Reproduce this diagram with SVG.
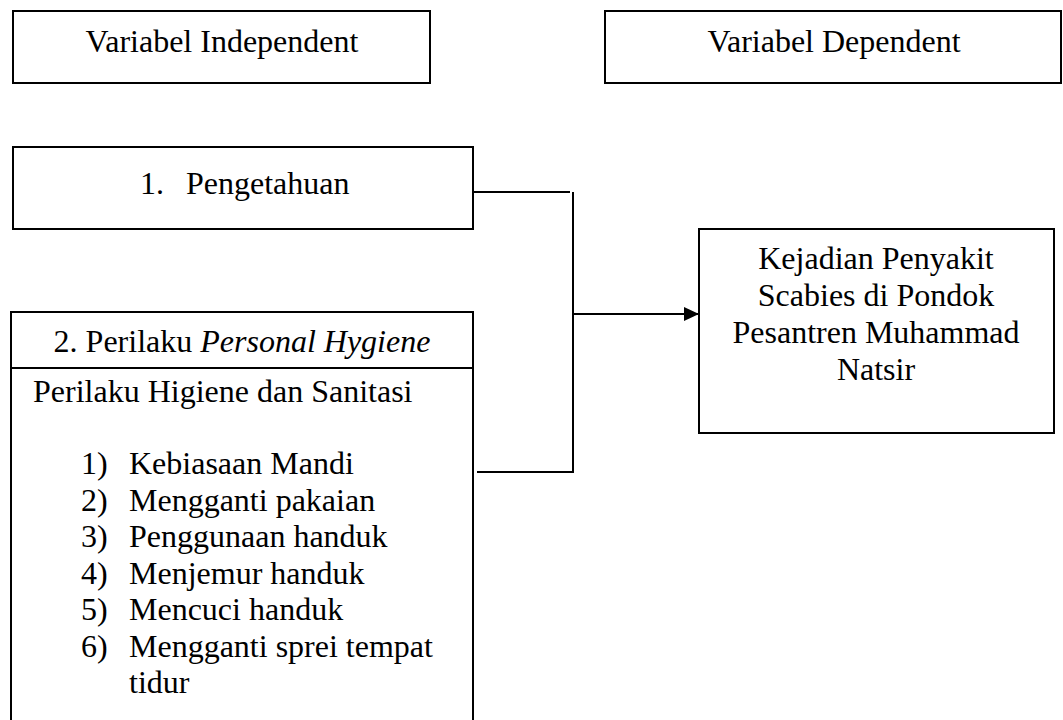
<svg xmlns="http://www.w3.org/2000/svg" width="1063" height="720" viewBox="0 0 1063 720">
<style>
.box{fill:#fff;stroke:#000;stroke-width:2}
.t{font-family:"Liberation Serif","Times New Roman",serif;font-size:32px;fill:#000}
.c{text-anchor:middle}
.ln{fill:none;stroke:#000;stroke-width:2}
</style>
<defs>
<marker id="ah" markerWidth="16" markerHeight="14" refX="15" refY="7" orient="auto" markerUnits="userSpaceOnUse">
<polygon points="0,0 15,7 0,14" fill="#000"/>
</marker>
</defs>
<rect width="1063" height="720" fill="#fff"/>
<g id="var-independent">
<rect class="box" x="13" y="11" width="417" height="72"/>
<text class="t c" x="222" y="52">Variabel Independent</text>
</g>
<g id="var-dependent">
<rect class="box" x="605" y="11" width="456" height="72"/>
<text class="t c" x="834" y="52">Variabel Dependent</text>
</g>
<g id="pengetahuan">
<rect class="box" x="13" y="147" width="460" height="82"/>
<text class="t" x="140" y="194">1.</text>
<text class="t" x="186" y="194">Pengetahuan</text>
</g>
<g id="perilaku">
<rect class="box" x="11" y="312" width="462" height="420"/>
<line class="ln" x1="11" y1="368" x2="473" y2="368"/>
<text class="t c" x="242" y="352">2. Perilaku <tspan font-style="italic">Personal Hygiene</tspan></text>
<text class="t" x="33" y="402">Perilaku Higiene dan Sanitasi</text>
<text class="t" x="81" y="474">1)</text><text class="t" x="129" y="474">Kebiasaan Mandi</text>
<text class="t" x="81" y="511">2)</text><text class="t" x="129" y="511">Mengganti pakaian</text>
<text class="t" x="81" y="547">3)</text><text class="t" x="129" y="547">Penggunaan handuk</text>
<text class="t" x="81" y="584">4)</text><text class="t" x="129" y="584">Menjemur handuk</text>
<text class="t" x="81" y="620">5)</text><text class="t" x="129" y="620">Mencuci handuk</text>
<text class="t" x="81" y="657">6)</text><text class="t" x="129" y="657">Mengganti sprei tempat</text>
<text class="t" x="129" y="693">tidur</text>
</g>
<g id="kejadian">
<rect class="box" x="699" y="229" width="355" height="204"/>
<text class="t c" x="876" y="269">Kejadian Penyakit</text>
<text class="t c" x="876" y="306">Scabies di Pondok</text>
<text class="t c" x="876" y="343">Pesantren Muhammad</text>
<text class="t c" x="876" y="380">Natsir</text>
</g>
<g id="connectors">
<polyline class="ln" points="473,192 570,192"/>
<line class="ln" x1="573" y1="192" x2="573" y2="473"/>
<polyline class="ln" points="477,472 574,472"/>
<line class="ln" x1="573" y1="314" x2="699" y2="314" marker-end="url(#ah)"/>
</g>
</svg>
